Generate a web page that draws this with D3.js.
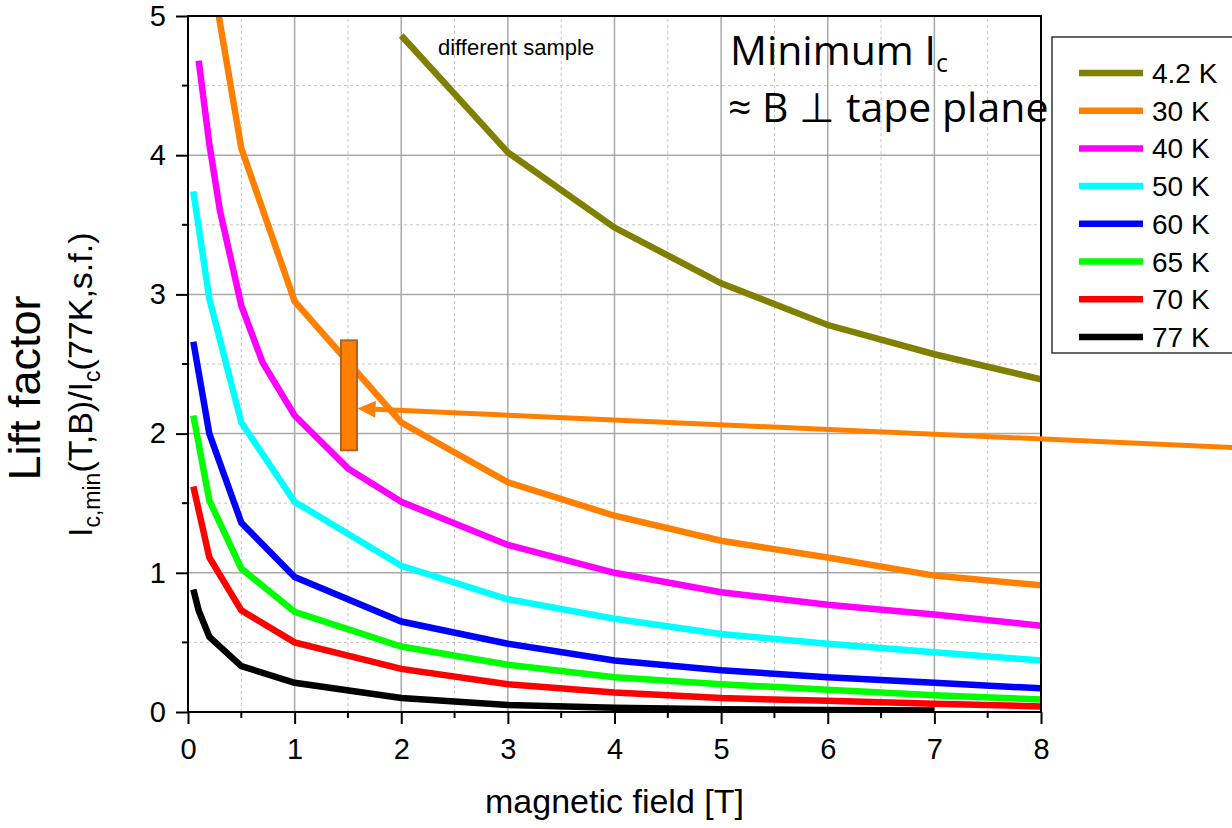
<!DOCTYPE html>
<html>
<head>
<meta charset="utf-8">
<script src="https://cdn.jsdelivr.net/npm/d3@7"></script>
<style>
  html, body { margin: 0; padding: 0; background: #fff; }
  svg { display: block; font-family: "Liberation Sans", Arial, sans-serif; }
</style>
</head>
<body>
<div id="chart"></div>
<script>
// Lift factor vs. magnetic field, one curve per temperature.
const temps = ['4.2 K', '30 K', '40 K', '50 K', '60 K', '65 K', '70 K', '77 K'];
const colors = ['#808000', '#ff8000', '#ff00ff', '#00ffff', '#0000ff', '#00ff00', '#ff0000', '#000000'];

const field42 = [2, 3, 4, 5, 6, 7, 8];
const lift42 = [4.86, 4.02, 3.48, 3.08, 2.78, 2.57, 2.39];

const field30 = [0.2, 0.5, 1, 2, 3, 4, 5, 6, 7, 8];
const lift30 = [5.4, 4.05, 2.95, 2.08, 1.65, 1.41, 1.23, 1.11, 0.98, 0.91];

const field40 = [0.1, 0.2, 0.3, 0.5, 0.7, 1, 1.5, 2, 3, 4, 5, 6, 7, 8];
const lift40 = [4.68, 4.08, 3.6, 2.92, 2.51, 2.13, 1.75, 1.51, 1.2, 1.0, 0.86, 0.77, 0.7, 0.62];

const field50 = [0.05, 0.2, 0.5, 1, 2, 3, 4, 5, 6, 7, 8];
const lift50 = [3.74, 2.97, 2.08, 1.51, 1.05, 0.81, 0.67, 0.56, 0.49, 0.43, 0.37];

const field60 = [0.05, 0.2, 0.5, 1, 2, 3, 4, 5, 6, 7, 8];
const lift60 = [2.66, 2.0, 1.36, 0.97, 0.65, 0.49, 0.37, 0.3, 0.25, 0.21, 0.17];

const field65 = [0.05, 0.2, 0.5, 1, 2, 3, 4, 5, 6, 7, 8];
const lift65 = [2.13, 1.52, 1.03, 0.72, 0.47, 0.34, 0.25, 0.2, 0.16, 0.12, 0.09];

const field70 = [0.05, 0.2, 0.5, 1, 2, 3, 4, 5, 6, 7, 8];
const lift70 = [1.62, 1.11, 0.73, 0.5, 0.31, 0.2, 0.14, 0.1, 0.08, 0.06, 0.04];

const field77 = [0.05, 0.1, 0.2, 0.5, 1, 2, 3, 4, 5, 6, 7];
const lift77 = [0.88, 0.73, 0.54, 0.33, 0.21, 0.1, 0.05, 0.03, 0.02, 0.015, 0.01];

const xTicks = [0, 1, 2, 3, 4, 5, 6, 7, 8];
const yTicks = [0, 1, 2, 3, 4, 5];

// annotation: marker box and arrow pointing at it (data units)
const markBox = { x0: 1.435, x1: 1.585, y0: 1.88, y1: 2.67 };
const arrowTip = [1.59, 2.18];
const arrowTail = [9.8, 1.9];

const fields = [field42, field30, field40, field50, field60, field65, field70, field77];
const lifts = [lift42, lift30, lift40, lift50, lift60, lift65, lift70, lift77];
const series = temps.map((t, i) => ({
  name: t,
  color: colors[i],
  points: fields[i].map((b, j) => [b, lifts[i][j]])
}));

const W = 1232, H = 828;
const m = { left: 188, right: 191, top: 16, bottom: 116 };

const svg = d3.select('#chart').append('svg').attr('width', W).attr('height', H);

const x = d3.scaleLinear().domain([0, 8]).range([m.left, W - m.right]);
const y = d3.scaleLinear().domain([0, 5]).range([H - m.bottom, m.top]);

// grid: minor dashed at half steps, major solid at integers
const grid = svg.append('g').attr('class', 'grid');
const halfX = d3.range(0.5, 8, 1);
const halfY = d3.range(0.5, 5, 1);
grid.selectAll('line.vminor').data(halfX).join('line')
  .attr('x1', d => x(d)).attr('x2', d => x(d)).attr('y1', y(0)).attr('y2', y(5))
  .attr('stroke', '#c4c4c4').attr('stroke-width', 1).attr('stroke-dasharray', '3,3');
grid.selectAll('line.hminor').data(halfY).join('line')
  .attr('x1', x(0)).attr('x2', x(8)).attr('y1', d => y(d)).attr('y2', d => y(d))
  .attr('stroke', '#c4c4c4').attr('stroke-width', 1).attr('stroke-dasharray', '3,3');
grid.selectAll('line.vmajor').data(xTicks.slice(1, -1)).join('line')
  .attr('x1', d => x(d)).attr('x2', d => x(d)).attr('y1', y(0)).attr('y2', y(5))
  .attr('stroke', '#a8a8a8').attr('stroke-width', 1.5);
grid.selectAll('line.hmajor').data(yTicks.slice(1, -1)).join('line')
  .attr('x1', x(0)).attr('x2', x(8)).attr('y1', d => y(d)).attr('y2', d => y(d))
  .attr('stroke', '#a8a8a8').attr('stroke-width', 1.5);

// curves, clipped to the plot frame
svg.append('clipPath').attr('id', 'plotclip').append('rect')
  .attr('x', x(0)).attr('y', y(5)).attr('width', x(8) - x(0)).attr('height', y(0) - y(5));

const line = d3.line().x(d => x(d[0])).y(d => y(d[1]));
svg.append('g').attr('clip-path', 'url(#plotclip)')
  .selectAll('path').data(series.slice().reverse()).join('path')
  .attr('d', d => line(d.points))
  .attr('fill', 'none')
  .attr('stroke', d => d.color)
  .attr('stroke-width', 6.5)
  .attr('stroke-linejoin', 'miter');

// axes
const xAxis = svg.append('g').attr('transform', `translate(0,${y(0)})`)
  .call(d3.axisBottom(x).tickValues(xTicks).tickFormat(d3.format('d')).tickSize(12).tickPadding(10));
const yAxis = svg.append('g').attr('transform', `translate(${x(0)},0)`)
  .call(d3.axisLeft(y).tickValues(yTicks).tickFormat(d3.format('d')).tickSize(12).tickPadding(10));
[xAxis, yAxis].forEach(a => {
  a.select('.domain').remove();
  a.selectAll('line').attr('stroke', '#000').attr('stroke-width', 2);
  a.selectAll('text').attr('fill', '#000').attr('font-size', 29)
    .attr('font-family', '"Liberation Sans", Arial, sans-serif');
});
xAxis.selectAll('text').attr('dy', '0.85em');

// minor ticks
svg.append('g').selectAll('line').data(halfX).join('line')
  .attr('x1', d => x(d)).attr('x2', d => x(d)).attr('y1', y(0)).attr('y2', y(0) + 6)
  .attr('stroke', '#000').attr('stroke-width', 2);
svg.append('g').selectAll('line').data(halfY).join('line')
  .attr('x1', x(0) - 6).attr('x2', x(0)).attr('y1', d => y(d)).attr('y2', d => y(d))
  .attr('stroke', '#000').attr('stroke-width', 2);

// frame
svg.append('rect')
  .attr('x', x(0)).attr('y', y(5)).attr('width', x(8) - x(0)).attr('height', y(0) - y(5))
  .attr('fill', 'none').attr('stroke', '#000').attr('stroke-width', 2);

// annotation box and arrow
svg.append('rect')
  .attr('x', x(markBox.x0)).attr('y', y(markBox.y1))
  .attr('width', x(markBox.x1) - x(markBox.x0)).attr('height', y(markBox.y0) - y(markBox.y1))
  .attr('fill', '#ff8000').attr('stroke', '#b0602c').attr('stroke-width', 2);

const tip = [x(arrowTip[0]), y(arrowTip[1])];
const tail = [x(arrowTail[0]), y(arrowTail[1])];
const ang = Math.atan2(tail[1] - tip[1], tail[0] - tip[0]);
const headLen = 18, headHalf = 8.5;
const base = [tip[0] + headLen * Math.cos(ang), tip[1] + headLen * Math.sin(ang)];
svg.append('line')
  .attr('x1', base[0]).attr('y1', base[1]).attr('x2', tail[0]).attr('y2', tail[1])
  .attr('stroke', '#ff8000').attr('stroke-width', 5);
svg.append('path')
  .attr('d', `M${tip[0]},${tip[1]}`
    + `L${base[0] - headHalf * Math.sin(ang)},${base[1] + headHalf * Math.cos(ang)}`
    + `L${base[0] + headHalf * Math.sin(ang)},${base[1] - headHalf * Math.cos(ang)}Z`)
  .attr('fill', '#ff8000');

// texts inside the plot
svg.append('text').attr('x', 438).attr('y', 55)
  .attr('font-size', 22).text('different sample');

const title = svg.append('g').attr('font-family', '"Open Sans", sans-serif').attr('fill', '#000');
const t1 = title.append('text').attr('x', 730).attr('y', 65).attr('font-size', 41);
t1.append('tspan').text('Minimum I');
t1.append('tspan').attr('font-size', 25).attr('dy', 7).text('c');
title.append('text').attr('x', 728).attr('y', 122).attr('font-size', 41)
  .text('\u2248 B \u22A5 tape plane');

// legend (box runs off the right edge)
const legend = svg.append('g');
legend.append('rect').attr('x', 1052).attr('y', 37).attr('width', 200).attr('height', 316)
  .attr('fill', '#fff').attr('stroke', '#333').attr('stroke-width', 1.5);
const item = legend.selectAll('g.item').data(series).join('g')
  .attr('transform', (d, i) => `translate(1079,${73 + i * 37.7})`);
item.append('line').attr('x1', 0).attr('x2', 64)
  .attr('stroke', d => d.color).attr('stroke-width', 6.5);
item.append('text').attr('x', 73).attr('dy', '0.36em').attr('font-size', 28)
  .text(d => d.name);

// axis titles
svg.append('text')
  .attr('x', (x(0) + x(8)) / 2).attr('y', 813)
  .attr('text-anchor', 'middle').attr('font-size', 34)
  .text('magnetic field [T]');

svg.append('text')
  .attr('transform', 'translate(40,388) rotate(-90)')
  .attr('text-anchor', 'middle').attr('font-size', 45)
  .text('Lift factor');

const yl = svg.append('text')
  .attr('transform', 'translate(92,537) rotate(-90)')
  .attr('font-size', 34);
yl.append('tspan').text('I');
yl.append('tspan').attr('font-size', 23).attr('dy', 8).text('c,min');
yl.append('tspan').attr('dy', -8).text('(T,B)/I');
yl.append('tspan').attr('font-size', 23).attr('dy', 8).text('c');
yl.append('tspan').attr('dy', -8).text('(77K,s.f.)');
</script>
</body>
</html>
